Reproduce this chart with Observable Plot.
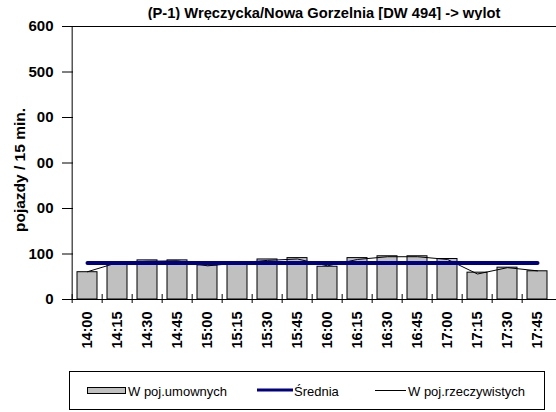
<!DOCTYPE html>
<html><head><meta charset="utf-8">
<script src="https://cdn.jsdelivr.net/npm/d3@7"></script>
<script src="https://cdn.jsdelivr.net/npm/@observablehq/plot@0.6"></script>
<style>
body{margin:0;background:#fff;font-family:"Liberation Sans",Arial,sans-serif;}
#wrap{position:relative;width:556px;height:412px;overflow:hidden;background:#fff;}
#title{position:absolute;left:0;top:0;}
#chart{position:absolute;left:0;top:20px;}
#legend{position:absolute;left:0;top:362px;}
</style></head>
<body><div id="wrap">
<svg id="title" width="556" height="20"><text x="324" y="18" text-anchor="middle" font-family="Liberation Sans, Arial, sans-serif" font-size="14.7" font-weight="bold" fill="#000">(P-1) Wręczycka/Nowa Gorzelnia [DW 494] -&gt; wylot</text></svg>
<div id="chart"></div>
<svg id="legend" width="556" height="50" font-family="Liberation Sans, Arial, sans-serif" font-size="13">
  <rect x="69.5" y="9.5" width="475" height="38" fill="#fff" stroke="#000"/>
  <rect x="87.5" y="25.5" width="38" height="6" fill="#c0c0c0" stroke="#000"/>
  <text x="128" y="34" fill="#000">W poj.umownych</text>
  <line x1="257" x2="293" y1="28" y2="28" stroke="#000080" stroke-width="3"/>
  <text x="294" y="34" fill="#000">Średnia</text>
  <line x1="375" x2="406" y1="28.5" y2="28.5" stroke="#000" stroke-width="1"/>
  <text x="408" y="34" fill="#000">W poj.rzeczywistych</text>
</svg>
</div>
<script>
const categories = ["14:00","14:15","14:30","14:45","15:00","15:15","15:30","15:45","16:00","16:15","16:30","16:45","17:00","17:15","17:30","17:45"];
const umownych = [60, 80, 86, 86, 75, 80, 88, 91, 72, 91, 95, 95, 89, 59, 70, 62];
const rzeczywistych = [61, 81, 84, 85, 74, 80, 86, 89, 74, 88, 94, 94, 88, 56, 70, 63];
const srednia = 80;
const yTicks = [0, 100, 200, 300, 400, 500, 600];
const yTickLabels = ["0", "100", "00", "00", "00", "500", "600"];
const yLabel = "pojazdy / 15 min.";

const data = categories.map((c, i) => ({t: c, u: umownych[i], r: rzeczywistych[i], s: srednia}));
const W = 556, ML = 67, MR = -2;
const step = (W - MR - ML) / categories.length;
const font = "Liberation Sans, Arial, sans-serif";

const chart = Plot.plot({
  width: W, height: 342, marginTop: 6, marginBottom: 63, marginLeft: ML, marginRight: MR,
  style: {fontFamily: font, background: "transparent", overflow: "visible", color: "#000"},
  x: {domain: categories, paddingInner: 0.32, paddingOuter: 0.16, label: null},
  y: {domain: [0, 600], label: null},
  marks: [
    Plot.barY(data, {x: "t", y: "u", fill: "#c0c0c0", stroke: "#000", strokeWidth: 1}),
    Plot.line(data, {x: "t", y: "r", stroke: "#000", strokeWidth: 1}),
    Plot.line(data, {x: "t", y: "s", stroke: "#000080", strokeWidth: 4}),
    Plot.ruleY([600], {stroke: "#000"}),
    Plot.ruleY([0], {stroke: "#000"}),
    Plot.ruleX([categories[0]], {y1: 0, y2: 600, dx: -step / 2, stroke: "#000"}),
    Plot.axisY({ticks: yTicks, tickSize: 11, dx: 6, tickFormat: () => "", label: null}),
    Plot.axisY({ticks: yTicks, tickSize: 0, tickPadding: 14, tickFormat: (d) => yTickLabels[yTicks.indexOf(d)], fontSize: 15, fontWeight: "bold", label: null}),
    Plot.axisX({tickSize: 9, dy: -5, dx: -step / 2, tickFormat: () => "", label: null}),
    Plot.axisX({tickSize: 0, tickPadding: 12, tickRotate: -90, fontSize: 14.5, fontWeight: "bold", label: null}),
    Plot.text([yLabel], {frameAnchor: "left", textAnchor: "middle", rotate: -90, dx: -47, dy: 7, fontSize: 15.5, fontWeight: "bold", fill: "#000"})
  ]
});
document.getElementById("chart").appendChild(chart);
</script>
</body></html>
